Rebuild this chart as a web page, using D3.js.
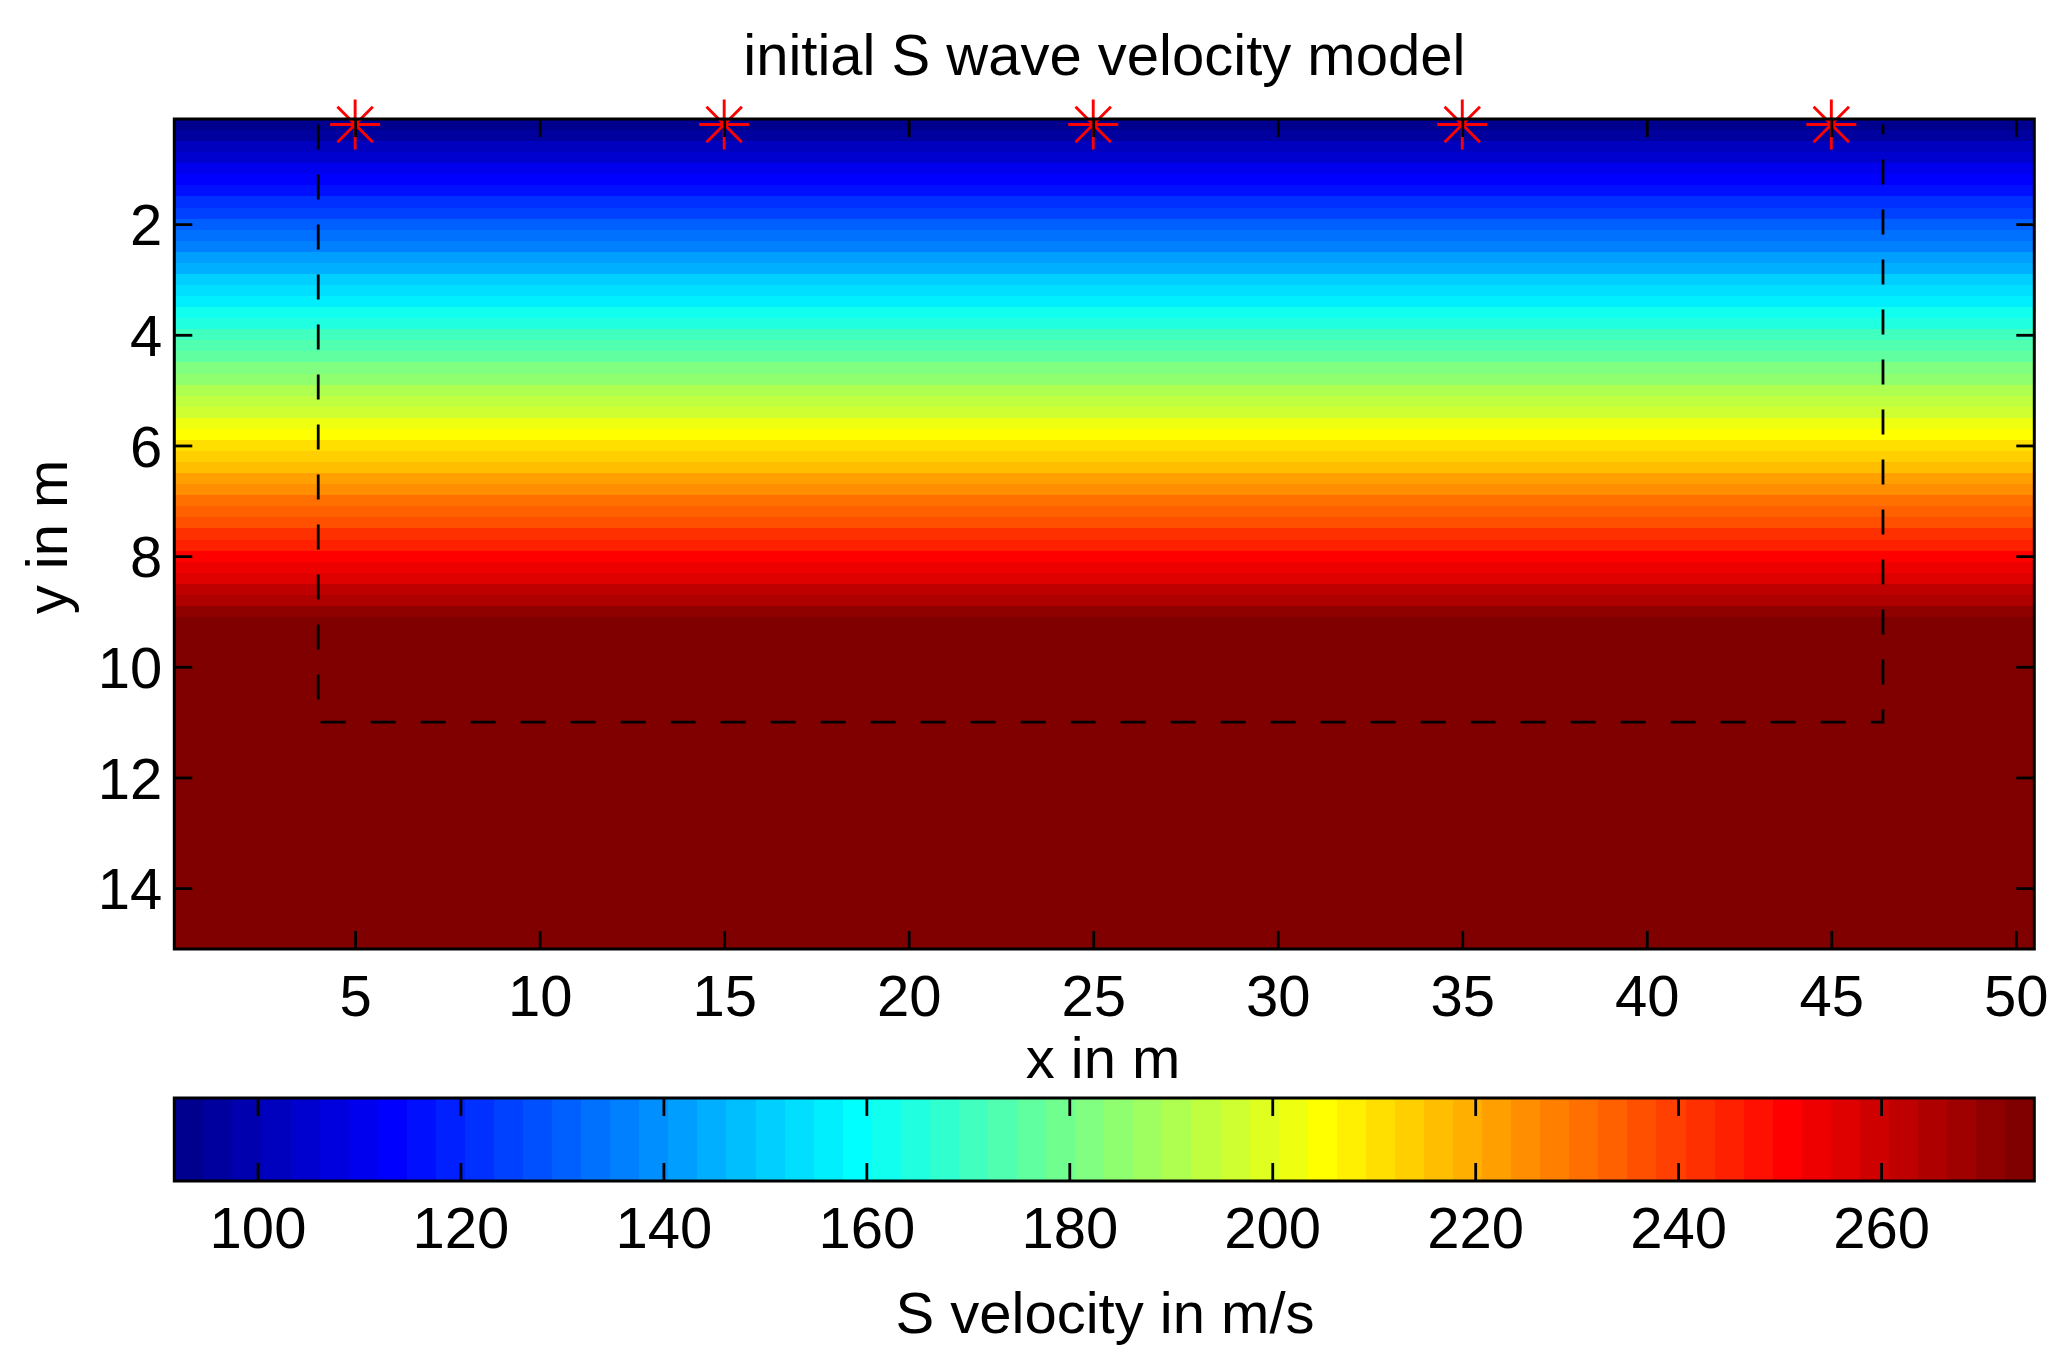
<!DOCTYPE html>
<html>
<head>
<meta charset="utf-8">
<script src="https://cdn.jsdelivr.net/npm/d3@7/dist/d3.min.js"></script>
<style>
  html, body { margin: 0; padding: 0; background: #fff; }
  svg { display: block; }
  text { font-family: "Liberation Sans", Arial, Helvetica, sans-serif; fill: #000; }
</style>
</head>
<body>
<svg id="chart" width="2063" height="1358"></svg>
<script>
// ---------------- data ----------------
const title = "initial S wave velocity model";
const xLabel = "x in m";
const yLabel = "y in m";
const cbLabel = "S velocity in m/s";

const xTicks = [5, 10, 15, 20, 25, 30, 35, 40, 45, 50];
const yTicks = [2, 4, 6, 8, 10, 12, 14];
const cbTicks = [100, 120, 140, 160, 180, 200, 220, 240, 260];

const xExtent = [0.1, 50.5];
const yExtent = [0.1, 15.1];
const cRange = [91.8, 275.1];

// depth of each model row (cell centres, m)
const depth = [0.2, 0.4, 0.6, 0.8, 1.0, 1.2, 1.4, 1.6, 1.8, 2.0,
  2.2, 2.4, 2.6, 2.8, 3.0, 3.2, 3.4, 3.6, 3.8, 4.0,
  4.2, 4.4, 4.6, 4.8, 5.0, 5.2, 5.4, 5.6, 5.8, 6.0,
  6.2, 6.4, 6.6, 6.8, 7.0, 7.2, 7.4, 7.6, 7.8, 8.0,
  8.2, 8.4, 8.6, 8.8, 9.0, 9.2, 9.4, 9.6, 9.8, 10.0,
  10.2, 10.4, 10.6, 10.8, 11.0, 11.2, 11.4, 11.6, 11.8, 12.0,
  12.2, 12.4, 12.6, 12.8, 13.0, 13.2, 13.4, 13.6, 13.8, 14.0,
  14.2, 14.4, 14.6, 14.8, 15.0];
// S velocity of each row (m/s)
const velocity = [93.2, 97.2, 101.2, 105.2, 109.2, 113.3, 117.3, 121.3, 125.3, 129.3,
  133.3, 137.3, 141.3, 145.3, 149.3, 153.4, 157.4, 161.4, 165.4, 169.4,
  173.4, 177.4, 181.4, 185.4, 189.4, 193.5, 197.5, 201.5, 205.5, 209.5,
  213.5, 217.5, 221.5, 225.5, 229.5, 233.6, 237.6, 241.6, 245.6, 249.6,
  253.6, 257.6, 261.6, 265.6, 269.6, 275.1, 275.1, 275.1, 275.1, 275.1,
  275.1, 275.1, 275.1, 275.1, 275.1, 275.1, 275.1, 275.1, 275.1, 275.1,
  275.1, 275.1, 275.1, 275.1, 275.1, 275.1, 275.1, 275.1, 275.1, 275.1,
  275.1, 275.1, 275.1, 275.1, 275.1];

// sources (red asterisks)
const srcX = [5, 15, 25, 35, 45];
const srcY = [0.2, 0.2, 0.2, 0.2, 0.2];

// dashed region outline
const boxX = [4, 4, 46.4, 46.4];
const boxY = [0.2, 11, 11, 0.2];

// ---------------- colormap (MATLAB jet, 64) ----------------
function jet(m) {
  const n = Math.ceil(m / 4);
  const u = [];
  for (let i = 1; i <= n; i++) u.push(i / n);
  for (let i = 1; i <= n - 1; i++) u.push(1);
  for (let i = n; i >= 1; i--) u.push(i / n);
  const g0 = Math.ceil(n / 2) - (m % 4 === 1 ? 1 : 0);
  const R = new Array(m).fill(0), G = new Array(m).fill(0), B = new Array(m).fill(0);
  for (let j = 0; j < u.length; j++) {
    const gi = g0 + j + 1, ri = gi + n, bi = gi - n;
    if (gi >= 1 && gi <= m) G[gi - 1] = u[j];
    if (ri >= 1 && ri <= m) R[ri - 1] = u[j];
    if (bi >= 1 && bi <= m) B[bi - 1] = u[j];
  }
  return R.map((r, i) => d3.rgb(Math.round(r * 255), Math.round(G[i] * 255), Math.round(B[i] * 255)).toString());
}
const cmap = jet(64);
function colorOf(v) {
  let idx = Math.floor((v - cRange[0]) / (cRange[1] - cRange[0]) * cmap.length);
  idx = Math.max(0, Math.min(cmap.length - 1, idx));
  return cmap[idx];
}

// ---------------- layout ----------------
const FS = 58;
const plot = { left: 174.3, right: 2034.3, top: 119, bottom: 949 };
const cb = { top: 1098, bottom: 1181 };
const TICK = 18;

const svg = d3.select("#chart");
const x = d3.scaleLinear().domain(xExtent).range([plot.left, plot.right]);
const y = d3.scaleLinear().domain(yExtent).range([plot.top, plot.bottom]);
const xc = d3.scaleLinear().domain(cRange).range([plot.left, plot.right]);

// clip for image
svg.append("clipPath").attr("id", "pclip")
  .append("rect").attr("x", plot.left).attr("y", plot.top)
  .attr("width", plot.right - plot.left).attr("height", plot.bottom - plot.top);

// model rows
const rows = depth.map((d, i) => ({ d, v: velocity[i] }));
const dz = depth[1] - depth[0];
svg.append("g").attr("clip-path", "url(#pclip)")
  .selectAll("rect").data(rows).join("rect")
  .attr("x", x(xExtent[0]))
  .attr("width", x(xExtent[1]) - x(xExtent[0]))
  .attr("y", r => y(r.d - dz / 2))
  .attr("height", r => y(r.d + dz / 2) - y(r.d - dz / 2) + 0.6)
  .attr("fill", r => colorOf(r.v))
  .attr("shape-rendering", "crispEdges");

// dashed outline
const boxPts = boxX.map((bx, i) => [bx, boxY[i]]);
svg.append("path")
  .attr("d", d3.line().x(p => x(p[0])).y(p => y(p[1]))(boxPts))
  .attr("fill", "none").attr("stroke", "#000").attr("stroke-width", 2.8)
  .attr("stroke-dasharray", "25,25");

// sources
const star = (cx, cy) => {
  const a = 25, b = 17.7;
  return `M${cx - a},${cy}L${cx + a},${cy}M${cx},${cy - a}L${cx},${cy + a}` +
         `M${cx - b},${cy - b}L${cx + b},${cy + b}M${cx - b},${cy + b}L${cx + b},${cy - b}`;
};
svg.append("g").selectAll("path").data(srcX.map((sx, i) => [sx, srcY[i]])).join("path")
  .attr("d", p => star(x(p[0]), y(p[1])))
  .attr("fill", "none").attr("stroke", "#ff0000").attr("stroke-width", 2.9);

// axes helpers
function styleAxis(g) {
  g.select(".domain").remove();
  g.selectAll(".tick line").attr("stroke", "#000").attr("stroke-width", 2.8);
  g.selectAll("text").attr("font-size", FS).attr("font-family", null).attr("fill", "#000");
}

// bottom x axis
const gxb = svg.append("g").attr("transform", `translate(0,${plot.bottom})`)
  .call(d3.axisBottom(x).tickValues(xTicks).tickSizeInner(-TICK).tickSizeOuter(0).tickFormat(d3.format("d")));
styleAxis(gxb);
gxb.selectAll("text").attr("y", 67).attr("dy", null);
// top x axis
const gxt = svg.append("g").attr("transform", `translate(0,${plot.top})`)
  .call(d3.axisTop(x).tickValues(xTicks).tickSizeInner(-TICK).tickSizeOuter(0).tickFormat(""));
styleAxis(gxt);
// left y axis
const gyl = svg.append("g").attr("transform", `translate(${plot.left},0)`)
  .call(d3.axisLeft(y).tickValues(yTicks).tickSizeInner(-TICK).tickSizeOuter(0).tickPadding(12).tickFormat(d3.format("d")));
styleAxis(gyl);
gyl.selectAll("text").attr("dy", "0.355em");
// right y axis
const gyr = svg.append("g").attr("transform", `translate(${plot.right},0)`)
  .call(d3.axisRight(y).tickValues(yTicks).tickSizeInner(-TICK).tickSizeOuter(0).tickFormat(""));
styleAxis(gyr);

// plot box
svg.append("rect").attr("x", plot.left).attr("y", plot.top)
  .attr("width", plot.right - plot.left).attr("height", plot.bottom - plot.top)
  .attr("fill", "none").attr("stroke", "#000").attr("stroke-width", 3);

// titles
svg.append("text").attr("x", (plot.left + plot.right) / 2).attr("y", 75)
  .attr("text-anchor", "middle").attr("font-size", FS).text(title);
svg.append("text").attr("x", 1103).attr("y", 1078)
  .attr("text-anchor", "middle").attr("font-size", FS).text(xLabel);
svg.append("text").attr("transform", `translate(67,537) rotate(-90)`)
  .attr("text-anchor", "middle").attr("font-size", FS).text(yLabel);

// ---------------- colorbar ----------------
const nC = cmap.length;
const blocks = cmap.map((c, i) => ({
  c,
  v0: cRange[0] + (cRange[1] - cRange[0]) * i / nC,
  v1: cRange[0] + (cRange[1] - cRange[0]) * (i + 1) / nC
}));
svg.append("g").selectAll("rect").data(blocks).join("rect")
  .attr("x", b => xc(b.v0)).attr("width", b => xc(b.v1) - xc(b.v0) + 0.6)
  .attr("y", cb.top).attr("height", cb.bottom - cb.top)
  .attr("fill", b => b.c).attr("shape-rendering", "crispEdges");

const gcb = svg.append("g").attr("transform", `translate(0,${cb.bottom})`)
  .call(d3.axisBottom(xc).tickValues(cbTicks).tickSizeInner(-TICK).tickSizeOuter(0).tickFormat(d3.format("d")));
styleAxis(gcb);
gcb.selectAll("text").attr("y", 66.5).attr("dy", null);
const gct = svg.append("g").attr("transform", `translate(0,${cb.top})`)
  .call(d3.axisTop(xc).tickValues(cbTicks).tickSizeInner(-TICK).tickSizeOuter(0).tickFormat(""));
styleAxis(gct);

svg.append("rect").attr("x", plot.left).attr("y", cb.top)
  .attr("width", plot.right - plot.left).attr("height", cb.bottom - cb.top)
  .attr("fill", "none").attr("stroke", "#000").attr("stroke-width", 3);

svg.append("text").attr("x", 1105).attr("y", 1333)
  .attr("text-anchor", "middle").attr("font-size", FS).text(cbLabel);
</script>
</body>
</html>
